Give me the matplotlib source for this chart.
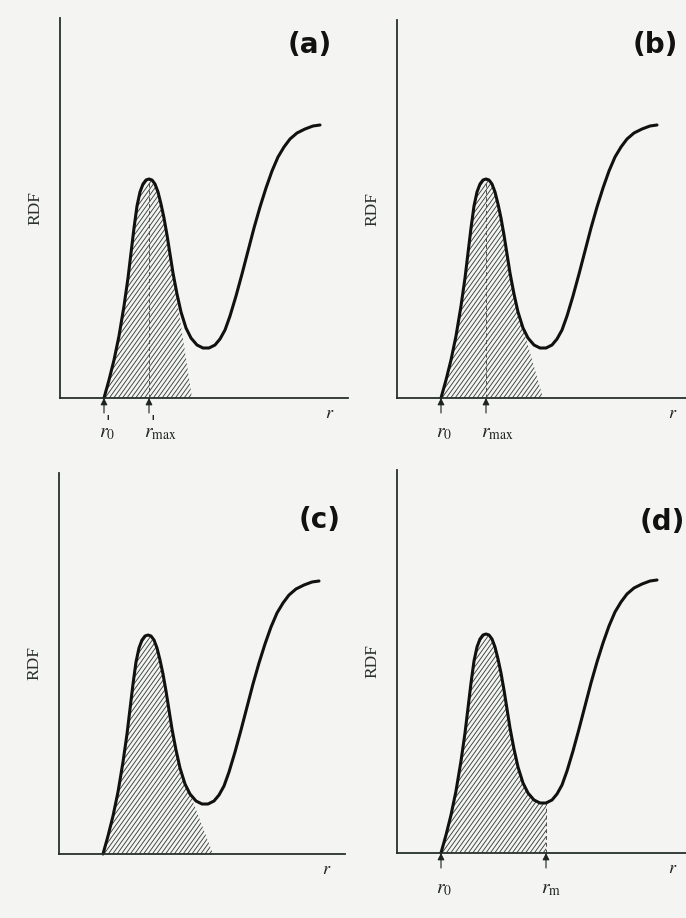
import matplotlib
matplotlib.use("Agg")
import numpy as np
import matplotlib.pyplot as plt
from matplotlib.collections import LineCollection

plt.rcParams['mathtext.fontset'] = 'stix'

# ---------------- data (schematic RDF curve) ----------------
# r and RDF in arbitrary units (one unit ~ one pixel of the original figure)
curve_r = [44, 49, 54, 59, 64, 68, 71, 74, 77, 80, 83, 86, 89, 92, 95, 98, 101, 104,
           107, 110, 113, 117, 121, 126, 131, 137, 143, 149, 155, 160, 165, 170, 176,
           182, 188, 194, 200, 206, 212, 218, 224, 230, 237, 245, 253, 260]
curve_rdf = [0, 18, 38, 62, 92, 120, 145, 170, 192, 206, 214, 218, 219, 218, 214, 206,
             194, 180, 163, 144, 125, 104, 86, 70, 60, 53, 50, 50, 53, 59, 68, 82, 102,
             124, 147, 170, 191, 210, 227, 241, 251, 259, 265, 269, 272, 273]

panel_labels = ['(a)', '(b)', '(c)', '(d)']

# right-hand tail of the hatched area (leaves the curve, reaches baseline)
tail_a_r = [113, 132]
tail_a_rdf = [125, 0]
tail_b_r = [126, 146]
tail_b_rdf = [70, 0]
tail_c_r = [131, 154]
tail_c_rdf = [60, 0]
tail_d_r = [149, 149]
tail_d_rdf = [50, 0]

# arrow marks on the r axis and their labels (primed labels in panel a)
marks_a = [44, 89]
marks_a_labels = [r"$r_{0}$", r"$r_{\mathrm{max}}$"]
marks_a_primed = [True, True]
marks_b = [44, 89]
marks_b_labels = [r"$r_0$", r"$r_{\mathrm{max}}$"]
marks_b_primed = [False, False]
marks_c = []
marks_c_labels = []
marks_c_primed = []
marks_d = [44, 149]
marks_d_labels = [r"$r_0$", r"$r_{\mathrm{m}}$"]
marks_d_primed = [False, False]

# dashed verticals (r position, height)
dash_a = (89, 219)
dash_b = (89, 219)
dash_c = None
dash_d = (149, 50)

# ---------------- layout / style ----------------
W, H = 686, 918
BG = '#f4f5f3'
AXC = '#26302a'
INK = '#111111'
HATCHC = '#3a423e'
LABC = '#1c221e'

fig = plt.figure(figsize=(W / 100, H / 100), dpi=100, facecolor=BG)

# axes boxes in pixels: left, top, right, bottom
boxes = [(60, 18, 348, 398), (397, 20, 686, 398),
         (59, 473, 345, 854), (397, 470, 686, 853)]
letter_pos = [(310, 45), (655, 45), (320, 520), (662, 522)]
tails = [(tail_a_r, tail_a_rdf), (tail_b_r, tail_b_rdf),
         (tail_c_r, tail_c_rdf), (tail_d_r, tail_d_rdf)]
marks = [(marks_a, marks_a_labels, marks_a_primed),
         (marks_b, marks_b_labels, marks_b_primed),
         (marks_c, marks_c_labels, marks_c_primed),
         (marks_d, marks_d_labels, marks_d_primed)]
dashes = [dash_a, dash_b, dash_c, dash_d]

hatch_angle = np.deg2rad(54)
hatch_step = 4.4

for i, (l, t, r, b) in enumerate(boxes):
    ax = fig.add_axes([l / W, 1 - b / H, (r - l) / W, (b - t) / H])
    ax.set_xlim(0, r - l)
    ax.set_ylim(0, b - t)
    ax.patch.set_visible(False)
    for s in ('top', 'right'):
        ax.spines[s].set_visible(False)
    for s in ('left', 'bottom'):
        ax.spines[s].set_color(AXC)
        ax.spines[s].set_linewidth(1.3)
    ax.set_xticks([])
    ax.set_yticks([])

    # hatched area
    tr, tg = tails[i]
    xs = [x for x in curve_r if x <= tr[0]]
    ys = [y for x, y in zip(curve_r, curve_rdf) if x <= tr[0]]
    xs = xs + tr[1:]
    ys = ys + tg[1:]
    poly = ax.fill(xs, ys, facecolor='none', edgecolor='none', linewidth=0,
                   clip_on=False)[0]
    top = max(ys) + 5
    dx_top = top / np.tan(hatch_angle)
    segs = [[(x0, -2), (x0 + dx_top, top)]
            for x0 in np.arange(min(xs) - dx_top - 5, max(xs) + 5, hatch_step)]
    lc = LineCollection(segs, colors=HATCHC, linewidths=0.65)
    ax.add_collection(lc)
    lc.set_clip_path(poly)

    # dashed vertical
    if dashes[i] is not None:
        dx, dh = dashes[i]
        ax.plot([dx, dx], [0, dh], color='#4a504c', lw=0.7,
                ls=(0, (4, 3)), clip_on=False)

    # curve
    ax.plot(curve_r, curve_rdf, color=INK, lw=2.2, solid_capstyle='round',
            solid_joinstyle='round', clip_on=False)

    # arrows and labels
    mpos, mlab, mprime = marks[i]
    for mx, lab, pr in zip(mpos, mlab, mprime):
        ax.annotate('', xy=(mx, 0), xytext=(mx, -15),
                    arrowprops=dict(arrowstyle='-|>', color=LABC, lw=0.8,
                                    mutation_scale=10, shrinkA=0, shrinkB=0),
                    annotation_clip=False)
        ax.text(mx - 5, -35, lab, fontsize=14, color=LABC,
                ha='left', va='center', clip_on=False)
        if pr:
            ax.text(mx + 3.5, -25, "'", fontsize=12, color=LABC,
                    family='DejaVu Sans', style='italic', ha='center',
                    va='center', clip_on=False)

    # axis labels
    ax.text(-25, 0.5 * (b - t), 'RDF', rotation=90,
            fontsize=12.5, family='Liberation Serif', color='#2a302b',
            ha='center', va='center', clip_on=False)
    ax.text((r - l) - 18 if i in (0, 2) else 276, -15, r'$r$', fontsize=13,
            color=LABC, ha='center', va='center', clip_on=False)

    # panel letters
    lx, ly = letter_pos[i]
    fig.text(lx / W, 1 - ly / H, panel_labels[i], fontsize=20, fontweight='bold',
             family='DejaVu Sans', color=INK, ha='center', va='center')

fig.savefig('out.png', dpi=100, facecolor=BG)
